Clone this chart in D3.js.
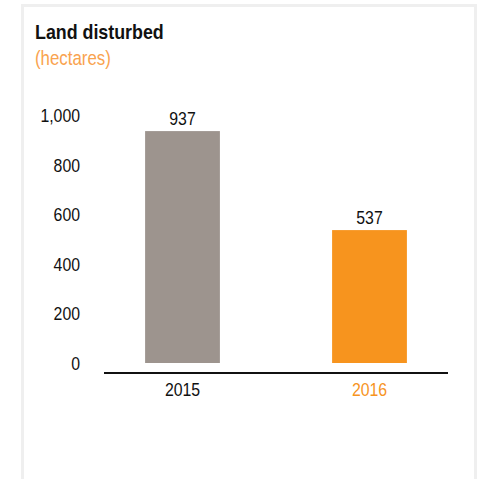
<!DOCTYPE html>
<html><head><meta charset="utf-8">
<script src="https://cdn.jsdelivr.net/npm/d3@7"></script>
<style>
html,body{margin:0;padding:0;background:#fff;}
svg{display:block;font-family:"Liberation Sans Narrow","Arial Narrow","Liberation Sans",sans-serif;}
</style></head>
<body>
<svg id="c" width="479" height="479"></svg>
<script>
const categories = ["2015", "2016"];
const values = [937, 537];
const yTicks = [0, 200, 400, 600, 800, 1000];
const title = "Land disturbed";
const subtitle = "(hectares)";

const barColors = ["#9d948e", "#f7941e"];
const labelColors = ["#111111", "#f7941e"];
const SX = 0.88; // horizontal condensing of text

const svg = d3.select("#c");

// panel border
svg.append("rect").attr("x", 22.5).attr("y", 5.5).attr("width", 453).attr("height", 500)
  .attr("fill", "#fff").attr("stroke", "#efefef").attr("stroke-width", 3);

svg.append("text").attr("transform", `translate(35,39) scale(0.87,1)`).text(title)
  .attr("font-weight", "bold").attr("font-size", 20.5).attr("fill", "#111");
svg.append("text").attr("transform", `translate(35,65) scale(0.865,1)`).text(subtitle)
  .attr("font-size", 19.5).attr("fill", "#f9a34f");

const y = d3.scaleLinear().domain([0, 1000]).range([363, 115.5]);
const x = d3.scaleBand().domain(categories).range([89, 463]).paddingInner(0.6).paddingOuter(0.3);

// y axis labels
const yAxis = d3.axisLeft(y).tickValues(yTicks).tickSize(0).tickPadding(0).tickFormat(d3.format(","));
const gy = svg.append("g").attr("transform", "translate(80,0)").call(yAxis);
gy.select(".domain").remove();
gy.selectAll("text").attr("font-size", 18).attr("fill", "#111").attr("font-family", null)
  .attr("dy", "0.36em").attr("transform", `scale(${SX},1)`);

// bars
svg.selectAll("rect.bar").data(values).join("rect").attr("class", "bar")
  .attr("x", (d, i) => x(categories[i]))
  .attr("y", d => y(d))
  .attr("width", x.bandwidth())
  .attr("height", d => y(0) - y(d))
  .attr("fill", (d, i) => barColors[i]);

// value labels
svg.selectAll("text.val").data(values).join("text").attr("class", "val")
  .attr("transform", (d, i) => `translate(${x(categories[i]) + x.bandwidth() / 2},${y(d) - 6}) scale(${SX},1)`)
  .attr("text-anchor", "middle").attr("font-size", 18).attr("fill", "#111")
  .text(d => d3.format(",")(d));

// x axis
const xAxis = d3.axisBottom(x).tickSize(0).tickPadding(0);
const gx = svg.append("g").attr("transform", "translate(0,373)").call(xAxis);
gx.select(".domain").remove();
gx.selectAll("text").attr("font-size", 18).attr("font-family", null).attr("dy", null).attr("y", 23)
  .attr("transform", `scale(${SX},1)`)
  .attr("fill", (d, i) => labelColors[i]);
svg.append("line").attr("x1", 104).attr("x2", 448).attr("y1", 373).attr("y2", 373)
  .attr("stroke", "#111").attr("stroke-width", 2);
</script>
</body></html>
